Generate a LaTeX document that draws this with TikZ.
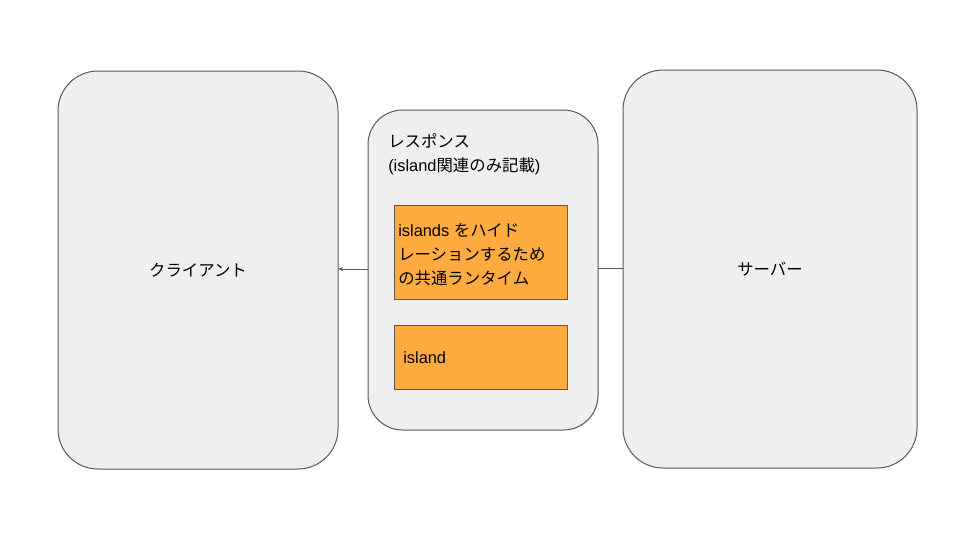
\documentclass[tikz,border=0pt]{standalone}
\usepackage{fontspec}
\setmainfont{Liberation Sans}
\newfontfamily\cjk{Noto Sans CJK JP}
\usetikzlibrary{arrows.meta}
\definecolor{panel}{HTML}{EFEFEF}
\definecolor{edge}{HTML}{595959}
\definecolor{orng}{HTML}{FFAB40}
\begin{document}
\begin{tikzpicture}[x=0.75pt,y=-0.75pt,
  panelbox/.style={draw=edge,fill=panel,line width=0.75pt},
  orbox/.style={draw=edge,fill=orng,line width=0.75pt},
  txt/.style={font=\fontsize{12.3}{18}\selectfont,inner sep=0pt},
  conn/.style={draw=edge,line width=0.75pt}]
\useasboundingbox (0,0) rectangle (960,540);
\fill[white] (0,0) rectangle (960,540);
\draw[panelbox,rounded corners=30pt] (58,71) rectangle (338,469);
\coordinate (clientE) at (338,269);
\draw[panelbox,rounded corners=26pt] (368,110) rectangle (598,430);
\coordinate (respW) at (368,269);
\coordinate (respE) at (598,268);
\draw[panelbox,rounded corners=30pt] (623,70) rectangle (917,468);
\coordinate (serverW) at (623,268);
\draw[orbox] (394,205) rectangle (567,299);
\draw[orbox] (394,325) rectangle (567,389);
\node[txt] (clientlabel) at (198,270) {\cjk クライアント};
\node[txt] (serverlabel) at (770,269) {\cjk サーバー};
\node[txt,anchor=north west,align=left] (resplabel) at (388,133) {{\cjk レスポンス}\\(island{\cjk 関連のみ記載})};
\node[txt,anchor=north west,align=left] (islands) at (398,223) {islands {\cjk をハイド}\\{\cjk レーションするため}\\{\cjk の共通ランタイム}};
\node[txt,anchor=west] (island) at (403,358) {island};
\draw[conn,-{Stealth[length=4pt,width=3pt]}] (respW) -- (clientE);
\draw[conn] (serverW) -- (respE);
\end{tikzpicture}
\end{document}
